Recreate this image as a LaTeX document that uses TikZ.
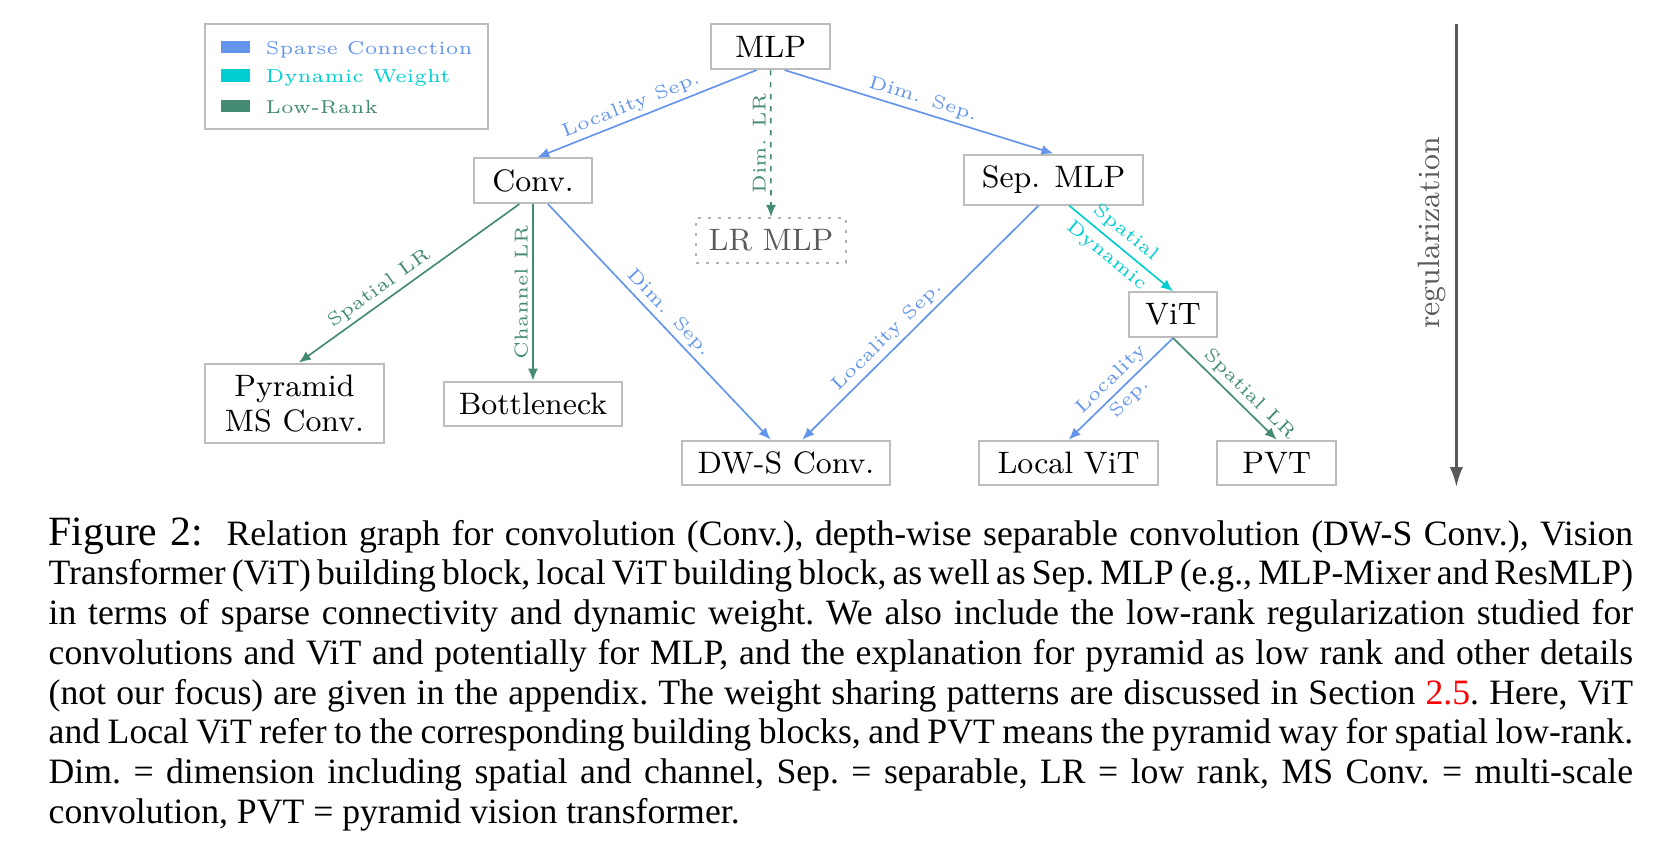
\documentclass[tikz,border=0pt]{standalone}
\usepackage{fontspec}
\usepackage{xcolor}
\usepackage{tikz}
\usetikzlibrary{arrows.meta}
\newfontfamily\capfont{Liberation Serif}
\newfontfamily\lblfont{lmroman5-regular.otf}
\definecolor{sparse}{HTML}{6495ED}
\definecolor{dynw}{HTML}{00CED1}
\definecolor{lowrank}{HTML}{458B74}
\definecolor{boxgray}{HTML}{BDBDBD}
\definecolor{reggray}{HTML}{5A5A5A}
\newlength\capw \setlength\capw{475.2pt}
\tikzset{box/.style={draw=boxgray,line width=0.6pt,fill=white,inner xsep=2pt,minimum height=13.4pt,font=\fontsize{9.3}{10.5}\selectfont},
  lbl/.style={font=\lblfont\fontsize{5.6}{8}\selectfont,inner sep=1.2pt},
  sparsearr/.style={sparse,line width=0.5pt,-{Latex[length=3.6pt,width=3pt]}},
  dynarr/.style={dynw,line width=0.5pt,-{Latex[length=3.6pt,width=3pt]}},
  lowarr/.style={lowrank,line width=0.5pt,-{Latex[length=3.6pt,width=3pt]}}}

\begin{document}
\begin{tikzpicture}
\useasboundingbox (0,0) rectangle (17.572,-8.949);
\draw[boxgray,line width=0.6pt] (2.161,-0.258) rectangle (5.144,-1.356);
\fill[sparse] (2.33,-0.428) rectangle (2.635,-0.562); \node[lbl,sparse,anchor=mid west] (lgsp) at (2.75,-0.495) {Sparse Connection};
\fill[dynw] (2.33,-0.729) rectangle (2.635,-0.863); \node[lbl,dynw,anchor=mid west] (lgdw) at (2.75,-0.796) {Dynamic Weight};
\fill[lowrank] (2.33,-1.050) rectangle (2.635,-1.184); \node[lbl,lowrank,anchor=mid west] (lglr) at (2.75,-1.117) {Low-Rank};

\node[box,minimum width=35.7pt] (MLP) at (8.123,-0.493) {MLP};
\node[box,minimum width=35.4pt] (Conv) at (5.618,-1.905) {Conv.};
\node[box,minimum width=45pt,draw=gray!60,dash pattern=on 0.9pt off 2.1pt,text=reggray] (LRMLP) at (8.127,-2.533) {LR MLP};
\node[box,minimum width=53.7pt] (SepMLP) at (11.105,-1.893) {Sep. MLP};
\node[box,minimum width=26.4pt] (ViT) at (12.365,-3.317) {ViT};
\node[box,minimum width=53.7pt,minimum height=22pt,align=center] (Pyr) at (3.104,-4.252) {Pyramid\\MS Conv.};
\node[box,minimum width=53.4pt] (Bottle) at (5.618,-4.259) {Bottleneck};
\node[box,minimum width=62.1pt] (DWS) at (8.285,-4.881) {DW-S Conv.};
\node[box,minimum width=53.7pt] (LocViT) at (11.264,-4.881) {Local ViT};
\node[box,minimum width=35.7pt] (PVT) at (13.458,-4.881) {PVT};

\draw[sparsearr] ([xshift=-4.2pt]MLP.south) -- ([xshift=1.3pt]Conv.north) node[lbl,pos=.55,sloped,above] {Locality Sep.};
\draw[lowarr,dash pattern=on 1.6pt off 2pt] (MLP.south) -- (LRMLP.north) node[lbl,midway,rotate=90,anchor=south] {Dim. LR};
\draw[sparsearr] ([xshift=4.2pt]MLP.south) -- (SepMLP.north) node[lbl,midway,sloped,above] {Dim. Sep.};
\draw[lowarr] ([xshift=-4.1pt]Conv.south) -- ([xshift=1.3pt]Pyr.north) node[lbl,pos=.6,sloped,above] {Spatial LR};
\draw[lowarr] (Conv.south) -- (Bottle.north) node[lbl,midway,rotate=90,anchor=south] {Channel LR};
\draw[sparsearr] ([xshift=4.5pt]Conv.south) -- ([xshift=-4.6pt]DWS.north) node[lbl,pos=.5,sloped,above] {Dim. Sep.};
\draw[sparsearr] ([xshift=-4.5pt]SepMLP.south) -- ([xshift=4.9pt]DWS.north) node[lbl,pos=.6,sloped,above] {Locality Sep.};
\draw[dynarr] ([xshift=4.7pt]SepMLP.south) -- (ViT.north) node[lbl,pos=.45,sloped,align=center] {Spatial\\[1pt]Dynamic};
\draw[sparsearr] (ViT.south) -- (LocViT.north) node[lbl,midway,sloped,align=center] {Locality\\Sep.};
\draw[lowarr] (ViT.south) -- (PVT.north) node[lbl,pos=.65,sloped,above] {Spatial LR};

\coordinate (regtop) at (15.352,-0.258);
\coordinate (regbot) at (15.352,-5.134);
\draw[reggray,line width=0.8pt,-{Latex[length=6pt,width=4pt]}] (regtop) -- (regbot);
\node[rotate=90,text=reggray,font=\fontsize{9.3}{11}\selectfont] (reg) at (15.095,-2.456) {regularization};

\node[anchor=north west,inner sep=0,align=left,font=\capfont\fontsize{10.7}{11.9}\selectfont\frenchspacing] (cap) at (0.506,-5.45) {%
\makebox[\capw][s]{{\fontsize{12.5}{12}\selectfont Figure 2:}\hspace{7pt}Relation graph for convolution (Conv.), depth-wise separable convolution (DW-S Conv.), Vision}\\
\makebox[\capw][s]{Transformer (ViT) building block, local ViT building block, as well as Sep. MLP (e.g., MLP-Mixer and ResMLP)}\\
\makebox[\capw][s]{in terms of sparse connectivity and dynamic weight. We also include the low-rank regularization studied for}\\
\makebox[\capw][s]{convolutions and ViT and potentially for MLP, and the explanation for pyramid as low rank and other details}\\
\makebox[\capw][s]{(not our focus) are given in the appendix. The weight sharing patterns are discussed in Section \textcolor{red}{2.5}. Here, ViT}\\
\makebox[\capw][s]{and Local ViT refer to the corresponding building blocks, and PVT means the pyramid way for spatial low-rank.}\\
\makebox[\capw][s]{Dim. = dimension including spatial and channel, Sep. = separable, LR = low rank, MS Conv. = multi-scale}\\
convolution, PVT = pyramid vision transformer.};
\end{tikzpicture}
\end{document}
